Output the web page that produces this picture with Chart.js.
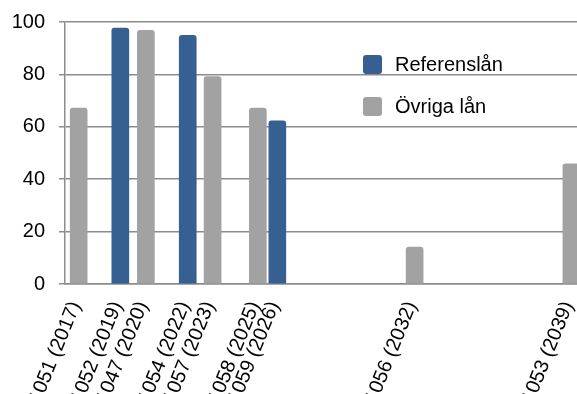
<!DOCTYPE html>
<html>
<head>
<meta charset="utf-8">
<script src="https://cdn.jsdelivr.net/npm/chart.js@4"></script>
<style>
  html, body { margin: 0; padding: 0; background: #fff; overflow: hidden; }
  .wrap { position: relative; width: 577px; height: 394px; }
</style>
</head>
<body>
<div class="wrap"><canvas id="loanChart"></canvas></div>
<script>
// loans, sorted by maturity
const loanIds = ['1051', '1052', '1047', '1054', '1057', '1058', '1059', '1056', '1053'];
const maturityYears = [2017, 2019, 2020, 2022, 2023, 2025, 2026, 2032, 2039];
// maturity as decimal year
const maturityDates = [2017.0, 2018.86, 2020.0, 2021.87, 2022.98, 2025.0, 2025.87, 2032.0, 2039.0];
const referensLan = [null, 97.7, null, 94.9, null, null, 62.3, null, null];
const ovrigaLan = [67.1, null, 96.8, null, 79.2, 67.1, null, 14.1, 45.9];
const yTicks = [0, 20, 40, 60, 80, 100];

const colors = {
  blue: '#365f92',
  gray: '#a2a2a2',
  grid: '#8c8c8c',
}

const tickLabels = loanIds.map(function(id, i) {
  return id + ' (' + maturityYears[i] + ')';
});

function toPoints(values) {
  const points = [];
  values.forEach(function(v, i) {
    if (v !== null) points.push({ x: maturityDates[i], y: v });
  });
  return points;
}

Chart.defaults.font.family = '"Liberation Sans", Arial, Helvetica, sans-serif';
Chart.defaults.font.size = 20;
Chart.defaults.color = '#000';

// legend drawn inside the plot area
const innerLegend = {
  id: 'innerLegend',
  afterDraw(chart) {
    const ctx = chart.ctx;
    ctx.save();
    ctx.font = '20px "Liberation Sans", Arial, sans-serif';
    ctx.textBaseline = 'middle';
    ctx.textAlign = 'left';
    chart.data.datasets.forEach(function(ds, i) {
      const y = 55 + i * 42;
      ctx.fillStyle = ds.backgroundColor;
      ctx.beginPath();
      ctx.roundRect(363, y, 19, 19, 3);
      ctx.fill();
      ctx.fillStyle = '#000';
      ctx.fillText(ds.label, 395, y + 10);
    });
    ctx.restore();
  }
};

const ctx = document.getElementById('loanChart').getContext('2d');

const chart = new Chart(ctx, {
  type: 'bar',
  data: {
    datasets: [
      {
        label: 'Referenslån',
        data: toPoints(referensLan),
        backgroundColor: colors.blue,
        barThickness: 17,
        borderRadius: 3,
        grouped: false,
      },
      {
        label: 'Övriga lån',
        data: toPoints(ovrigaLan),
        backgroundColor: colors.gray,
        barThickness: 17,
        borderRadius: 3,
        grouped: false,
      }
    ]
  },
  options: {
    responsive: true,
    maintainAspectRatio: false,
    animation: false,
    layout: { padding: { top: 22, right: 0, left: 0, bottom: 0 } },
    plugins: {
      legend: { display: false },
      tooltip: { enabled: false },
    },
    scales: {
      x: {
        type: 'linear',
        min: 2016.39,
        max: 2039.25,
        offset: false,
        grid: { display: false },
        border: { display: true, color: colors.grid, width: 1.5 },
        afterBuildTicks: function(scale) {
          scale.ticks = maturityDates.map(function(v) { return { value: v }; });
        },
        ticks: {
          autoSkip: false,
          minRotation: 68,
          maxRotation: 68,
          padding: 6,
          labelOffset: -3,
          callback: function(value, index) {
            return tickLabels[index];
          }
        },
        afterFit: function(scale) {
          scale.height = 110;
          scale.paddingLeft = 0;
          scale.paddingRight = 0;
        }
      },
      y: {
        min: 0,
        max: 100,
        afterBuildTicks: function(scale) {
          scale.ticks = yTicks.map(function(v) { return { value: v }; });
        },
        grid: {
          color: colors.grid,
          lineWidth: 1.5,
          tickLength: 6,
        },
        border: { display: true, color: colors.grid, width: 1.5 },
        ticks: { padding: 14 },
        afterFit: function(scale) {
          scale.width = 65;
          scale.paddingTop = 0;
          scale.paddingBottom = 0;
        }
      }
    }
  },
  plugins: [innerLegend]
});
</script>
</body>
</html>
